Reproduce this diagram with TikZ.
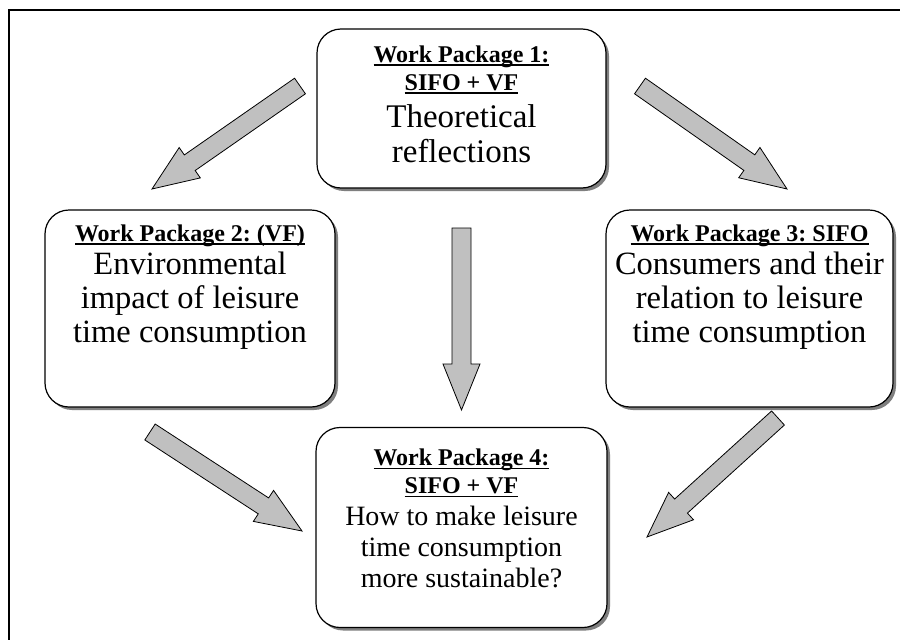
\documentclass[tikz,border=0pt]{standalone}
\usepackage{fontspec}
\setmainfont{Liberation Serif}
\usetikzlibrary{calc,shadows}
\definecolor{arrowgray}{HTML}{C0C0C0}
\definecolor{shadowgray}{HTML}{7F7F7F}
\newcommand{\wpul}[1]{\leavevmode\setbox0=\hbox{#1}\rlap{\rule[-3.5pt]{\wd0}{1.7pt}}\box0}
\newcommand{\wparrow}[2]{%
  \coordinate (#1hb) at ($(#2)!46pt!(#1)$);
  \draw[blockarrow] ($(#1)!9.5pt!90:(#2)$) -- ($(#1hb)!9.5pt!90:(#2)$) -- ($(#1hb)!18.5pt!90:(#2)$) -- (#2) -- ($(#1hb)!18.5pt!-90:(#2)$) -- ($(#1hb)!9.5pt!-90:(#2)$) -- ($(#1)!9.5pt!-90:(#2)$) -- cycle;}
\tikzset{
  wpbox/.style={draw=black, line width=1.2pt, fill=white, rounded corners=24pt, inner sep=0pt,
    drop shadow={shadow xshift=3pt, shadow yshift=-3pt, fill=shadowgray, opacity=1}},
  wptext/.style={anchor=north, inner sep=0pt, font=\frenchspacing},
  blockarrow/.style={draw=black, line width=0.8pt, fill=arrowgray, line join=miter},
}
\begin{document}
\begin{tikzpicture}[x=1pt,y=-1pt]
\useasboundingbox (0,0) rectangle (900,640);
\fill[white] (0,0) rectangle (900,640);
\draw[line width=2pt] (9,640) -- (9,10) -- (900,10);

% boxes
\node[wpbox, minimum width=289pt, minimum height=159pt] (box1) at (461.5,108.5) {};
\node[wpbox, minimum width=290pt, minimum height=197pt] (box2) at (190,308.5) {};
\node[wpbox, minimum width=287pt, minimum height=197pt] (box3) at (749.5,308.5) {};
\node[wpbox, minimum width=291pt, minimum height=200pt] (box4) at (461.5,527.5) {};

% texts
\node[wptext, yshift=-17pt] (t1) at (box1.north) {\parbox[t]{280pt}{\centering\frenchspacing
  \fontsize{24}{28}\selectfont\bfseries\wpul{Work Package 1:}\\\wpul{SIFO + VF}\par
  \vspace{2pt}\fontsize{33}{35}\selectfont\mdseries Theoretical\\reflections\par}};
\node[wptext, yshift=-15pt] (t2) at (box2.north) {\parbox[t]{284pt}{\centering\frenchspacing
  \fontsize{24}{28}\selectfont\bfseries\wpul{Work Package 2: (VF)}\par
  \vspace{-1pt}\fontsize{32.5}{34}\selectfont\mdseries Environmental\\impact of leisure\\time consumption\par}};
\node[wptext, yshift=-15pt] (t3) at (box3.north) {\parbox[t]{284pt}{\centering\frenchspacing
  \fontsize{24}{28}\selectfont\bfseries\wpul{Work Package 3: SIFO}\par
  \vspace{-1pt}\fontsize{32.5}{34}\selectfont\mdseries Consumers and their\\relation to leisure\\time consumption\par}};
\node[wptext, yshift=-22pt] (t4) at (box4.north) {\parbox[t]{284pt}{\centering\frenchspacing
  \fontsize{24}{28}\selectfont\bfseries\wpul{Work Package 4:}\\\wpul{SIFO + VF}\par
  \vspace{1pt}\fontsize{28}{31}\selectfont\mdseries How to make leisure\\time consumption\\more sustainable?\par}};

% arrows
\coordinate (a1t) at (300,86);  \coordinate (a1p) at (152,189);
\coordinate (a2t) at (640,86);  \coordinate (a2p) at (787,189);
\coordinate (a3t) at (461.5,228); \coordinate (a3p) at (461.5,410);
\coordinate (a4t) at (150,432); \coordinate (a4p) at (302,531);
\coordinate (a5t) at (778,418); \coordinate (a5p) at (647,537);
\wparrow{a1t}{a1p}
\wparrow{a2t}{a2p}
\wparrow{a3t}{a3p}
\wparrow{a4t}{a4p}
\wparrow{a5t}{a5p}
\end{tikzpicture}
\end{document}
